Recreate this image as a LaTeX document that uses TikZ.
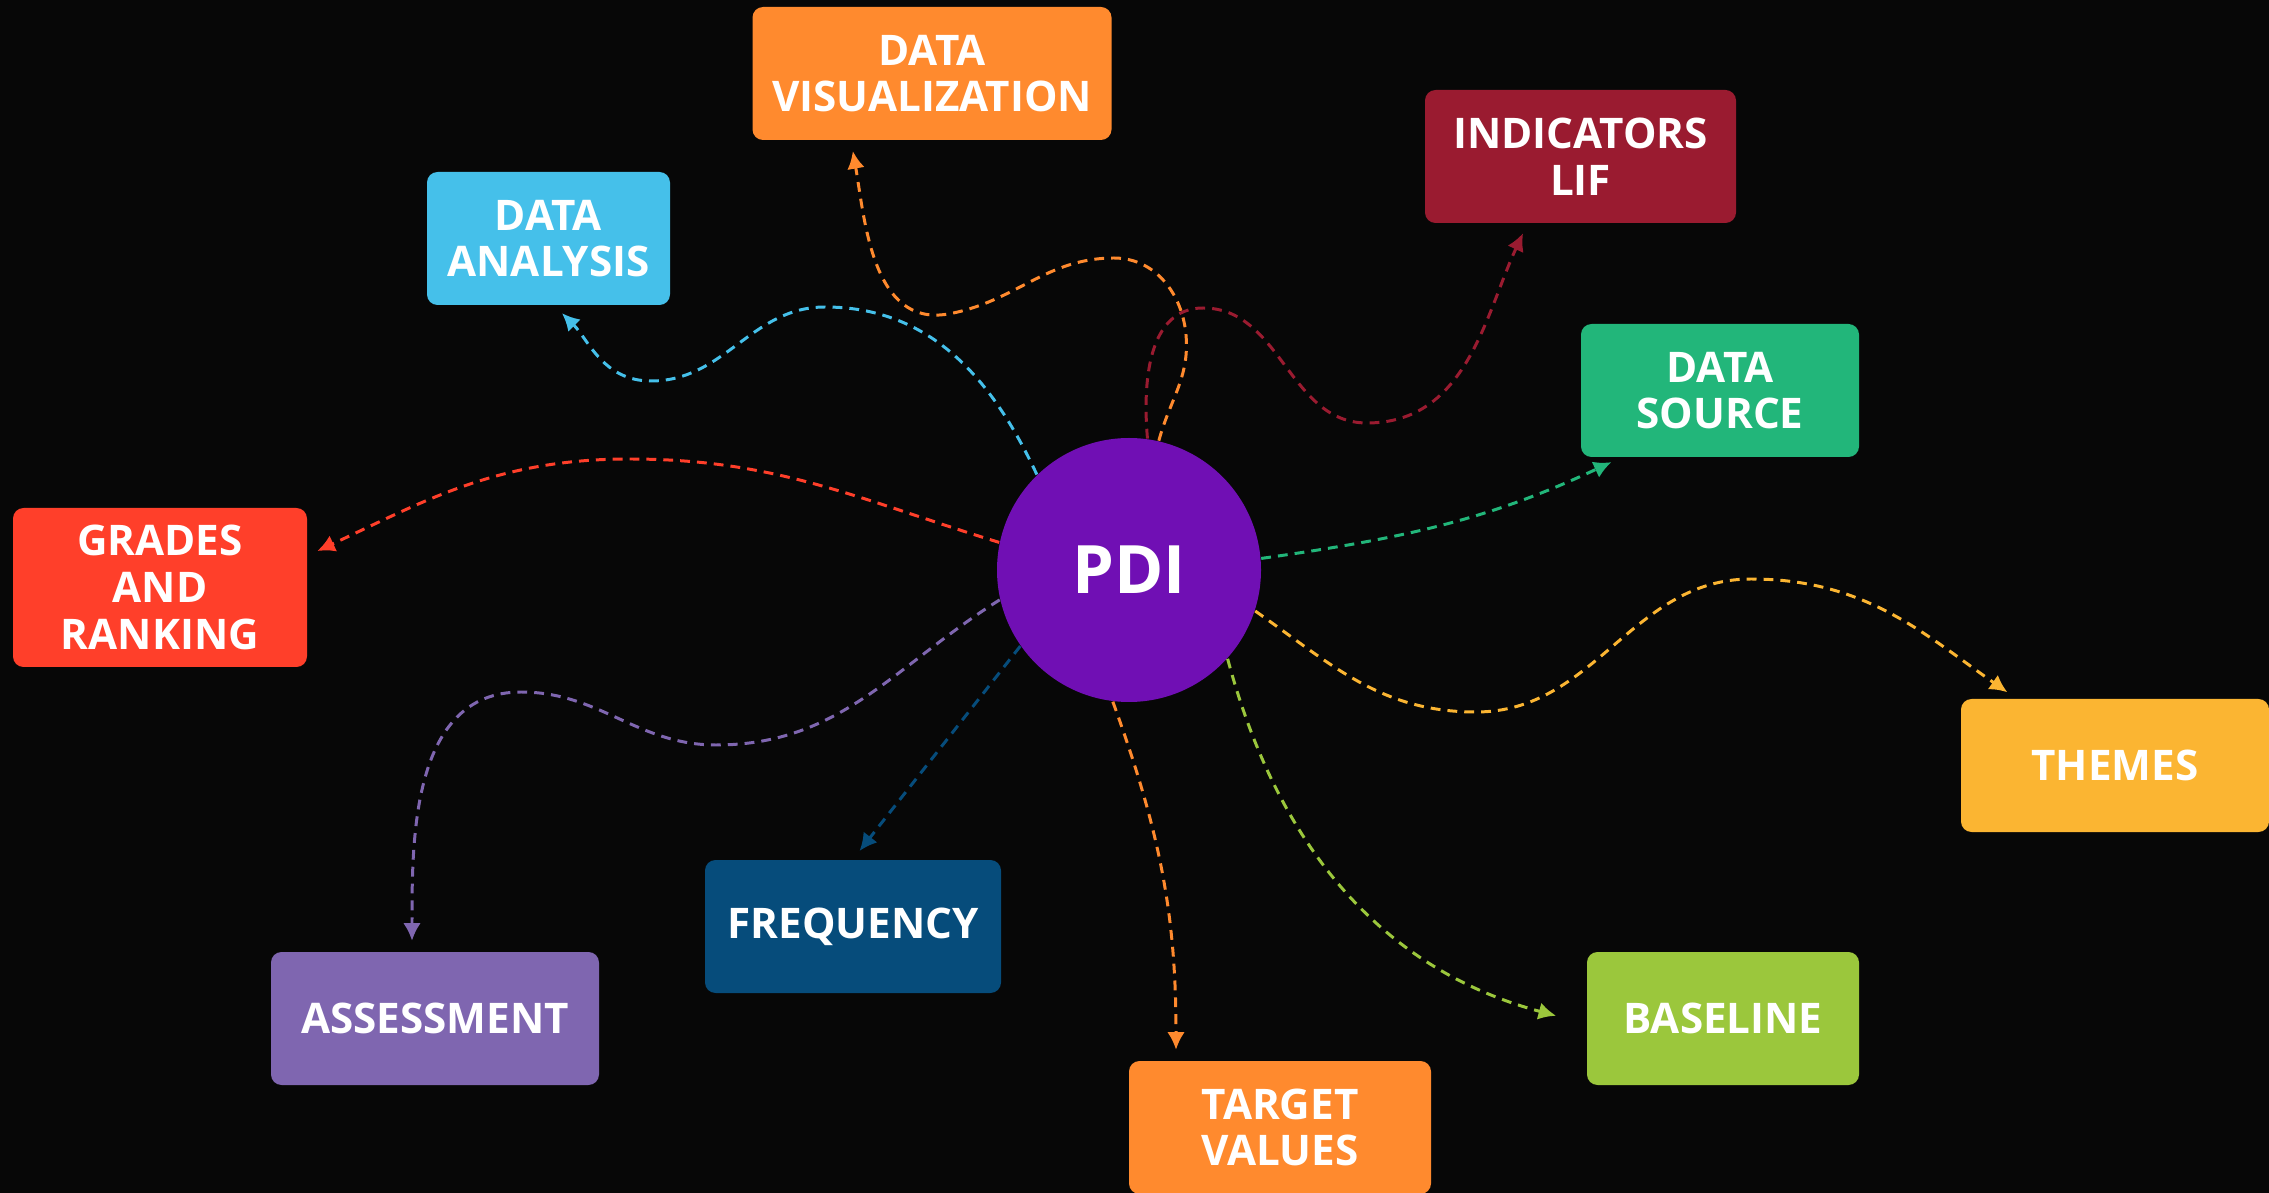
\documentclass[tikz,border=0pt]{standalone}
\usepackage{fontspec}
\setmainfont{Open Sans}
\usetikzlibrary{arrows.meta}

\definecolor{bgdark}{HTML}{070707}
\definecolor{pdiviolet}{HTML}{700FB4}
\definecolor{vizorange}{HTML}{FF8A2E}
\definecolor{anacyan}{HTML}{45C0EA}
\definecolor{indred}{HTML}{9A1B30}
\definecolor{srcgreen}{HTML}{22B67A}
\definecolor{gradered}{HTML}{FF3F2A}
\definecolor{themeyellow}{HTML}{FBB532}
\definecolor{freqblue}{HTML}{064C7B}
\definecolor{asspurple}{HTML}{7F66B0}
\definecolor{baselime}{HTML}{9BC73C}

\begin{document}
\begin{tikzpicture}[y=-1cm, shorten >=3pt]
    \tikzstyle{box}=[rectangle,rounded corners=3pt,text=white,align=center,
      font=\fontsize{12}{13.3}\selectfont\bfseries,inner sep=0pt]
    \tikzstyle{hub}=[circle,fill=pdiviolet,text=white,minimum size=2.64cm,
      font=\fontsize{19}{22}\selectfont\bfseries,inner sep=0pt]
    \tikzstyle{link}=[dash pattern=on 2.8pt off 2pt,line width=0.85pt,
      -{Latex[length=5pt,width=5pt]}]

    % background
    \fill[bgdark] (0,0) rectangle (22.69,11.93);
    \useasboundingbox (0,0) rectangle (22.69,11.93);

    % centre node
    \node[hub] (pdi) at (11.29,5.70) {PDI};

    % topic boxes
    \foreach \nm/\px/\py/\bw/\bh/\col/\txt in {
      dvis/9.32/0.735/3.59/1.33/vizorange/{DATA\\VISUALIZATION},
      dana/5.485/2.385/2.43/1.33/anacyan/{DATA\\ANALYSIS},
      ind/15.805/1.565/3.11/1.33/indred/{INDICATORS\\LIF},
      dsrc/17.20/3.905/2.78/1.33/srcgreen/{DATA\\SOURCE},
      grades/1.60/5.875/2.94/1.59/gradered/{GRADES\\AND\\RANKING},
      themes/21.15/7.655/3.08/1.33/themeyellow/{THEMES},
      freq/8.53/9.265/2.96/1.33/freqblue/{FREQUENCY},
      assess/4.35/10.185/3.28/1.33/asspurple/{ASSESSMENT},
      target/12.80/11.275/3.02/1.33/vizorange/{TARGET\\VALUES},
      base/17.23/10.185/2.72/1.33/baselime/{BASELINE}}
    \node[box,fill=\col,minimum width=\bw cm,minimum height=\bh cm] (\nm) at (\px,\py) {\txt};

    % connectors from the centre
    \draw[link,anacyan] (pdi.134) to[out=115,in=0] (8.25,3.07)
      to[out=180,in=0] (6.51,3.81) to[out=180,in=-45] ([xshift=0.6mm]dana.south);
    \draw[link,vizorange] (pdi.77) to[out=75,in=-85] (11.86,3.35)
      to[out=95,in=0] (11.14,2.58) to[out=180,in=10] (9.48,3.14)
      to[out=190,in=-80] ([xshift=-8.1mm]dvis.south);
    \draw[link,indred] (pdi.82) to[out=95,in=180] (12.03,3.08)
      to[out=0,in=180] (13.67,4.23) to[out=0,in=-115] ([xshift=-5.3mm]ind.south);
    \draw[link,srcgreen] (pdi.5) to[out=8,in=205] ([xshift=-9.9mm]dsrc.south);
    \draw[link,themeyellow] (pdi.-18) to[out=-35,in=180] (14.76,7.12)
      to[out=0,in=180] (17.51,5.79) to[out=0,in=145] ([xshift=-9.9mm]themes.north);
    \draw[link,baselime] (pdi.-42) to[out=-75,in=165] ([xshift=-2mm]base.west);
    \draw[link,vizorange] (pdi.-97) to[out=-70,in=90] ([xshift=-10.4mm]target.north);
    \draw[link,freqblue] (pdi.215) -- (freq.north);
    \draw[link,asspurple] (pdi.193) to[out=212,in=0] (7.16,7.45)
      to[out=180,in=0] (5.21,6.92) to[out=180,in=90] ([xshift=-2.3mm]assess.north);
    \draw[link,gradered] (pdi.168) to[out=163,in=0] (6.29,4.59)
      to[out=180,in=25] ([yshift=3.2mm]grades.east);
\end{tikzpicture}
\end{document}
